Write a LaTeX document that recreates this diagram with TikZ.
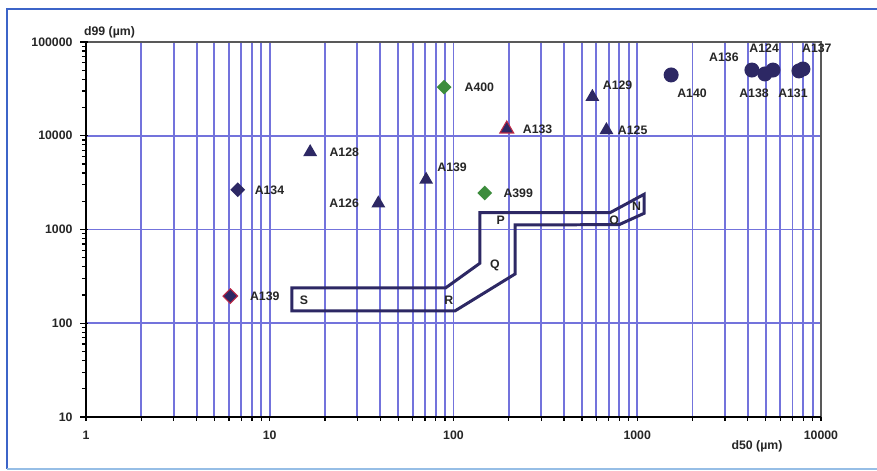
\documentclass[tikz,border=0pt]{standalone}
\usepackage{fontspec}
\setmainfont{Liberation Sans}
\usetikzlibrary{shapes.geometric,positioning}
\definecolor{navy}{RGB}{45,40,100}
\definecolor{grn}{RGB}{60,140,60}
\definecolor{redline}{RGB}{190,40,70}
\definecolor{gridblue}{RGB}{115,115,220}
\definecolor{frameblue}{RGB}{60,100,200}
\definecolor{framelight}{RGB}{150,190,230}
\tikzset{
	lbl/.style={font=\bfseries\fontsize{7}{8}\selectfont, inner sep=1pt, text=black!85},
	tri/.style={regular polygon, regular polygon sides=3, fill=navy, inner sep=0pt, minimum size=0.32cm},
	dia/.style={diamond, fill=navy, inner sep=0pt, minimum size=0.3cm},
	dot/.style={circle, fill=navy, inner sep=0pt, minimum size=0.3cm},
	gridln/.style={draw=gridblue, line width=1.1pt},
	zone/.style={draw=navy, line width=1.7pt, line join=miter},
}
\begin{document}
\begin{tikzpicture}[x=3.675cm, y=1.875cm]
	\useasboundingbox (-0.468,0.424) rectangle (4.305,5.448);
	\fill[white] (-0.468,0.424) rectangle (4.305,5.448);
	\draw[frameblue, line width=1.2pt] (4.4,5.352) -- (-0.43,5.352) -- (-0.43,0.445);
	\draw[framelight, line width=1.2pt] (-0.43,0.445) -- (4.4,0.445);
	\foreach \k in {0,...,3} {
			\foreach \m in {2,...,10} {
					\draw[gridln] ({\k+log10(\m)},1) -- ({\k+log10(\m)},5);
				}
		}
	\foreach \k in {2,...,4} {
			\draw[gridln] (0,\k) -- (4,\k);
		}
	\draw[black!65, line width=0.7pt] (0,5) -- (4,5) -- (4,1);
	\foreach \k in {1,...,5} {
			\draw[line width=0.8pt] (-0.03,\k) -- (0.012,\k);
		}
	\foreach \k in {1,...,4} {
			\foreach \m in {2,...,9} {
					\draw[line width=0.7pt] (-0.022,{\k+log10(\m)}) -- (0,{\k+log10(\m)});
				}
		}
	\foreach \k in {0,...,3} {
			\foreach \m in {1,...,9} {
					\draw[line width=0.7pt] ({\k+log10(\m)},1) -- ({\k+log10(\m)},0.955);
				}
		}
	\draw[line width=0.7pt] (4,1) -- (4,0.955);
	\draw[line width=1.3pt] (0,5) -- (0,1) -- (4,1);
	\foreach \k/\t in {1/10,2/100,3/1000,4/10000,5/100000} {
			\node[lbl, anchor=east] (ylab\k) at (-0.062,\k) {\t};
		}
	\foreach \k/\t in {0/1,1/10,2/100,3/1000,4/10000} {
			\node[lbl] (xlab\k) at (\k,0.808) {\t};
		}
	\node[lbl, anchor=west] (ytitle) at (-0.022,5.107) {d99 (µm)};
	\node[lbl] (xtitle) at (3.652,0.691) {d50 (µm)};

	\draw[zone] (1.12,2.378) -- (1.958,2.378) -- (2.144,2.64) -- (2.144,3.179) -- (2.852,3.179)
		-- (3.038,3.376) -- (3.038,3.173) -- (2.902,3.052) -- (2.335,3.048) -- (2.335,2.525)
		-- (2.008,2.131) -- (1.12,2.131) -- cycle;
	\node[lbl] (S) at (1.186,2.248) {S};
	\node[lbl] (R) at (1.975,2.248) {R};
	\node[lbl] (Q) at (2.226,2.621) {Q};
	\node[lbl] (P) at (2.257,3.101) {P};
	\node[lbl] (O) at (2.875,3.101) {O};
	\node[lbl] (N) at (2.997,3.243) {N};

	\node[dia, fill=grn] (A400) at ({log10(89)},{4+log10(3.3)}) {};
	\node[dia, fill=grn] (A399) at ({log10(148)},{3+log10(2.45)}) {};
	\node[dia] (A134) at ({log10(6.7)},{3+log10(2.65)}) {};
	\node[dia, draw=redline, line width=0.6pt] (A139d) at ({log10(6.1)},{2+log10(1.95)}) {};
	\node[tri, draw=redline, line width=0.6pt] (A133) at ({log10(195)},{4+log10(1.18)}) {};
	\node[tri] (A128) at ({log10(16.6)},{3+log10(6.7)}) {};
	\node[tri] (A129) at ({log10(570)},{4+log10(2.6)}) {};
	\node[tri] (A125) at ({log10(680)},{4+log10(1.15)}) {};
	\node[tri] (A139t) at ({log10(71)},{3+log10(3.4)}) {};
	\node[tri] (A126) at ({log10(39)},{3+log10(1.9)}) {};
	\node[dot] (A140) at ({log10(1530)},{4+log10(4.45)}) {};
	\node[dot] (A136) at ({log10(4210)},{4+log10(5.02)}) {};
	\node[dot] (A124) at ({log10(5480)},{4+log10(5.02)}) {};
	\node[dot] (A138) at ({log10(4955)},{4+log10(4.56)}) {};
	\node[dot] (A131) at ({log10(7590)},{4+log10(4.91)}) {};
	\node[dot] (A137) at ({log10(7980)},{4+log10(5.15)}) {};

	\node[lbl, right=6pt of A400] (lA400) {A400};
	\node[lbl, right=5pt of A399] (lA399) {A399};
	\node[lbl, right=4pt of A134] (lA134) {A134};
	\node[lbl, right=5.5pt of A139d] (lA139d) {A139};
	\node[lbl, right=5pt of A133] (lA133) {A133};
	\node[lbl, right=7pt of A128] (lA128) {A128};
	\node[lbl, above right=1.3pt and 3pt of A129] (lA129) {A129};
	\node[lbl, right=2.5pt of A125] (lA125) {A125};
	\node[lbl, above right=1.3pt and 3.4pt of A139t] (lA139t) {A139};
	\node[lbl, left=7pt of A126] (lA126) {A126};
	\node[lbl, below=2.1pt of A140, xshift=11.9pt] (lA140) {A140};
	\node[lbl, left=1.9pt of A136, yshift=7.4pt] (lA136) {A136};
	\node[lbl, above=4.4pt of A124, xshift=-5pt] (lA124) {A124};
	\node[lbl, below=2.7pt of A138, xshift=-6.2pt] (lA138) {A138};
	\node[lbl, below=4.4pt of A131, xshift=-3.4pt] (lA131) {A131};
	\node[lbl, above=3.8pt of A137, xshift=7.9pt] (lA137) {A137};
\end{tikzpicture}
\end{document}
